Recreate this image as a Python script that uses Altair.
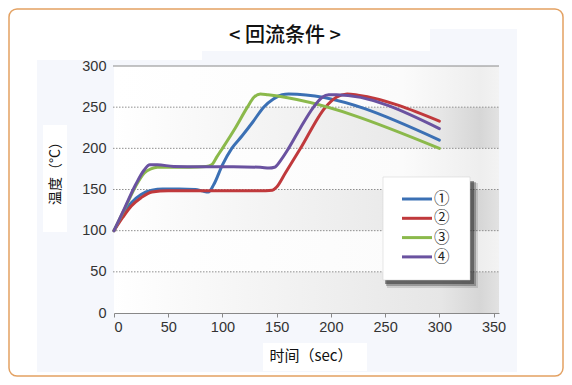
import altair as alt
import pandas as pd

# ---------------- data ----------------
series_names = ["①", "②", "③", "④"]
colors = ["#3b70b4", "#c0393c", "#8bb94b", "#6a52a0"]

t1 = [0, 8, 16, 25, 35, 45, 60, 75, 82, 87, 92, 100, 108.6, 118, 128, 138, 147, 155, 161, 300]
y1 = [100, 119, 134, 144, 149, 150.5, 150.5, 150, 148, 147, 156, 180, 200, 215, 232, 250, 260, 265, 266, 210]

t2 = [0, 8, 16, 25, 35, 50, 80, 110, 140, 146, 150, 158, 172, 195, 205, 215, 225, 300]
y2 = [100, 116, 130, 140, 147, 148.5, 148.5, 148.5, 148.5, 149, 153, 170, 200, 250, 262, 266, 264.5, 233]

t3 = [0, 10, 20, 28, 34, 40, 55, 70, 85, 90, 95, 100, 112, 123, 129, 135, 142, 300]
y3 = [100, 127, 154, 170, 175, 177, 177, 177, 178, 180, 190, 200, 225, 250, 262, 266, 265, 200]

t4 = [0, 10, 20, 28, 33, 40, 55, 80, 110, 135, 143, 148, 154, 161, 172, 184, 192, 198, 205, 300]
y4 = [100, 128, 156, 174, 180, 180, 178, 177.5, 177.5, 177, 176, 177, 186, 200, 225, 250, 262, 265, 265, 224]

x_ticks = [0, 50, 100, 150, 200, 250, 300, 350]
y_ticks = [0, 50, 100, 150, 200, 250, 300]
grid_vals = [50, 100, 150, 200, 250]
band_lo = [0, 100, 200]
band_hi = [50, 150, 250]

title_text = "< 回流条件 >"
x_title = "时间（sec）"
y_title = "温度（°C）"

rows = []
for name, ts, ys in zip(series_names, [t1, t2, t3, t4], [y1, y2, y3, y4]):
    for i, (t, v) in enumerate(zip(ts, ys)):
        rows.append({"series": name, "time": t, "temp": v, "order": i})
df = pd.DataFrame(rows)
bands = pd.DataFrame({"temp": band_lo, "hi": band_hi})
grid = pd.DataFrame({"temp": grid_vals})
top = pd.DataFrame({"temp": [300]})

# ---------------- layout ----------------
W, H = 385, 247
PAD = {"left": 106, "top": 58, "right": 65, "bottom": 64}
CJK = "Noto Sans CJK SC"
NUM = "Liberation Sans"

x_scale = alt.Scale(domain=[0, 355], nice=False, zero=False)
y_scale = alt.Scale(domain=[0, 300], nice=False)
x_axis = alt.Axis(values=x_ticks, grid=False, tickSize=4, tickColor="#888",
                  domainColor="#888", labelFont=NUM, labelFontSize=14.5,
                  labelColor="#333", labelPadding=3, zindex=1)
y_axis = alt.Axis(values=y_ticks, grid=False, ticks=False, domain=False,
                  labelFont=NUM, labelFontSize=14.5, labelColor="#333",
                  labelPadding=8, zindex=1)
Y = lambda: alt.Y("temp:Q", scale=y_scale, axis=y_axis, title=None)
one = alt.Data(values=[{"a": 1}])


def box(x1, x2, y1, y2, **kw):
    return alt.Chart(one).mark_rect(**kw).encode(
        x=alt.value(x1), x2=alt.value(x2), y=alt.value(y1), y2=alt.value(y2))


def label(text, x, y, **kw):
    return alt.Chart(one).mark_text(text=text, **kw).encode(
        x=alt.value(x), y=alt.value(y))


layers = []
# outer frame
layers.append(box(-105, 449, -57, 310, fill="white", stroke="#e3a162",
                  strokeWidth=1.5, cornerRadius=8))
# light blue panel
panel = "#f5f7fc"
layers.append(box(-77, 403, -6, 306, fill=panel))
layers.append(box(88, 403, -15, -6, fill=panel))
layers.append(box(316, 403, -37, -15, fill=panel))

# plot background (white bands)
white_grad = alt.Gradient(
    gradient="linear", x1=0, x2=1, y1=0, y2=0,
    stops=[alt.GradientStop(color="#ffffff", offset=0),
           alt.GradientStop(color="#fbfbfb", offset=0.75),
           alt.GradientStop(color="#eeeeee", offset=0.95),
           alt.GradientStop(color="#f3f3f3", offset=1)])
layers.append(box(0, W, 0, H, color=white_grad))

gray_grad = alt.Gradient(
    gradient="linear", x1=0, x2=1, y1=0, y2=0,
    stops=[alt.GradientStop(color="#ffffff", offset=0),
           alt.GradientStop(color="#f2f2f2", offset=0.45),
           alt.GradientStop(color="#e6e6e6", offset=0.85),
           alt.GradientStop(color="#d6d6d6", offset=0.95),
           alt.GradientStop(color="#e2e2e2", offset=1)])
layers.append(alt.Chart(bands).mark_rect(color=gray_grad).encode(
    y=Y(), y2="hi:Q", x=alt.value(0), x2=alt.value(W)))

# grid lines
layers.append(alt.Chart(grid).mark_rule(color="#8f8f8f", strokeDash=[1.5, 1.5],
                                        strokeWidth=1).encode(
    y=Y(), x=alt.value(-1), x2=alt.value(W)))
layers.append(alt.Chart(top).mark_rule(color="#8a8a8a", strokeWidth=1).encode(
    y=Y(), x=alt.value(-1), x2=alt.value(W)))

# data lines
lines = alt.Chart(df).mark_line(strokeWidth=3, interpolate="monotone",
                                strokeCap="round", strokeJoin="round").encode(
    x=alt.X("time:Q", scale=x_scale, title=None, axis=x_axis),
    y=Y(),
    color=alt.Color("series:N", scale=alt.Scale(domain=series_names, range=colors),
                    legend=None),
    detail="series:N",
    order="order:Q")
layers.append(lines)

# legend box with shadow
lx1, lx2, ly1, ly2 = 269, 356, 111, 214
layers.append(box(lx1 + 4, lx2 + 8, ly1 + 6, ly2 + 8, fill="#000000", opacity=0.12))
layers.append(box(lx1 + 3, lx2 + 6, ly1 + 5, ly2 + 6, fill="#000000", opacity=0.25))
layers.append(box(lx1 + 2, lx2 + 4, ly1 + 4, ly2 + 4, fill="#222222", opacity=0.45))
layers.append(box(lx1, lx2, ly1, ly2, fill="white", stroke="#cccccc", strokeWidth=0.5))
for i, (name, c) in enumerate(zip(series_names, colors)):
    yy = 133 + 19.3 * i
    layers.append(alt.Chart(one).mark_rule(color=c, strokeWidth=3).encode(
        x=alt.value(288), x2=alt.value(318), y=alt.value(yy)))
    layers.append(label(name, 320, yy, font=CJK, fontSize=15.5, align="left",
                        baseline="middle", color="#222"))

# titles
layers.append(label(title_text, 171, -30, font=CJK, fontSize=20, fontWeight=500,
                    align="center", baseline="middle", color="#111"))
layers.append(box(-71, -47, 59, 166, fill="white"))
layers.append(label(y_title, -58, 104, font=CJK, fontSize=14, angle=270,
                    align="center", baseline="middle", color="#111"))
layers.append(box(149, 253, 277, 305, fill="white"))
layers.append(label(x_title, 197, 290, font=CJK, fontSize=15, align="center",
                    baseline="middle", color="#111"))

chart = alt.layer(*layers).properties(
    width=W, height=H, padding=PAD,
    autosize=alt.AutoSizeParams(type="none"),
    background="white",
).configure_view(stroke=None)

chart.save("out.html", embed_options={"renderer": "svg", "actions": False})
